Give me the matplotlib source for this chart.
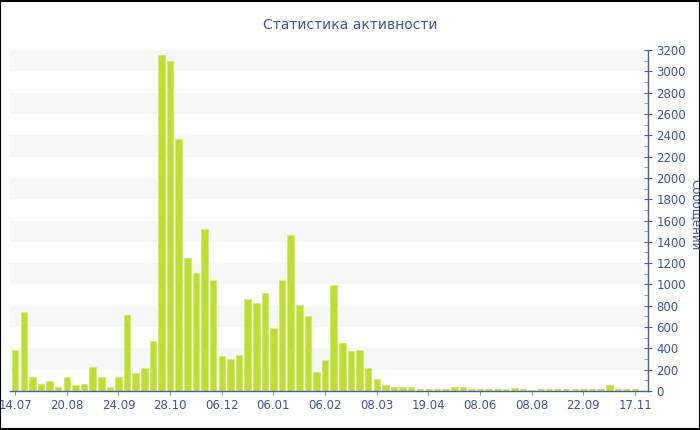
import matplotlib

matplotlib.use("Agg")

import matplotlib.pyplot as plt
import numpy as np
from matplotlib.patches import Rectangle
from matplotlib.ticker import MultipleLocator

TITLE = "Статистика активности"
Y_LABEL = "Сообщений"

message_counts = [
    381, 742, 130, 68, 96, 40, 136, 52, 61, 224, 136, 42, 136, 713, 165, 218, 469,
    3151, 3098, 2367, 1244, 1112, 1520, 1046, 331, 299, 334, 861, 823, 924,
    591, 1037, 1461, 811, 708, 181, 294, 993, 447, 372, 384, 215, 114,
    55, 42, 39, 39, 23, 23, 23, 20, 33, 33, 23, 20, 23, 23, 23,
    25, 15, 12, 18, 15, 15, 15, 15, 18, 20, 22, 55, 15, 15, 15,
]
tick_labels = [
    "14.07", "20.08", "24.09", "28.10", "06.12", "06.01", "06.02",
    "08.03", "19.04", "08.06", "08.08", "22.09", "17.11",
]
label_step = 6

BAR_COLOR = "#bde030"
BAR_EDGE = "#d2ec72"
TEXT_BLUE = "#3f56a2"
AXIS_BLUE = "#4a5fa8"
BAND_COLOR = "#f7f7f7"

fig = plt.figure(figsize=(7.0, 4.3), dpi=100)
ax = fig.add_axes([10 / 700, 1 - 391 / 430, 638 / 700, 341 / 430])

x = np.arange(len(message_counts))
ax.set_xlim(-0.6, 73.5)
ax.set_ylim(0, 3200)

# alternating horizontal bands
for lo in range(200, 3200, 400):
    ax.axhspan(lo, lo + 200, color=BAND_COLOR, zorder=0, lw=0)

ax.bar(x, message_counts, width=0.76, color=BAR_COLOR, edgecolor=BAR_EDGE,
       linewidth=0.6, zorder=2)

tick_pos = x[::label_step][: len(tick_labels)]
ax.set_xticks(tick_pos)
ax.set_xticklabels(tick_labels)
ax.tick_params(axis="x", colors="#9a9a9a", labelcolor=TEXT_BLUE, length=3,
               width=0.8, labelsize=8.5, pad=3)

ax.yaxis.tick_right()
ax.yaxis.set_major_locator(MultipleLocator(200))
ax.yaxis.set_minor_locator(MultipleLocator(100))
ax.tick_params(axis="y", which="major", direction="inout", length=6, width=0.8,
               colors=AXIS_BLUE, labelcolor=TEXT_BLUE, labelsize=8.5, pad=3)
ax.tick_params(axis="y", which="minor", direction="in", length=3, width=0.8,
               colors="#9aa4c8")

for side in ("top", "left"):
    ax.spines[side].set_visible(False)
for side in ("right", "bottom"):
    ax.spines[side].set_color(AXIS_BLUE)
    ax.spines[side].set_linewidth(1.0)
ax.spines["bottom"].set_zorder(3)

fig.text(0.5, 1 - 25 / 430, TITLE, ha="center", va="center", color=TEXT_BLUE,
         fontsize=10)
fig.text(696 / 700, 1 - 215 / 430, Y_LABEL, ha="center", va="center",
         rotation=270, color=TEXT_BLUE, fontsize=8.5)

# outer frame of the image
fig.patches.append(Rectangle((0.0007, 0.0012), 0.9986, 0.9976, transform=fig.transFigure,
                             fill=False, edgecolor="black", linewidth=1.5))

fig.savefig("out.png", dpi=100)
